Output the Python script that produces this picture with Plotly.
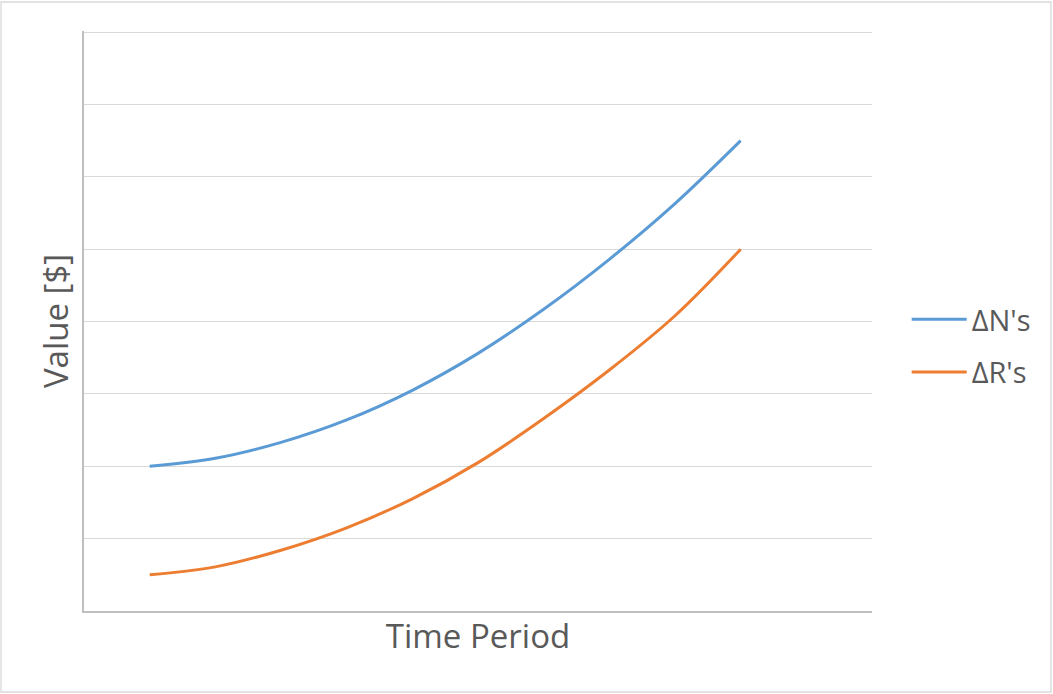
import plotly.graph_objects as go

periods = [1, 2, 3, 4, 5, 6, 7, 8, 9, 10]
delta_n = [2.0, 2.11, 2.33, 2.64, 3.05, 3.56, 4.17, 4.86, 5.63, 6.5]
delta_r = [0.5, 0.61, 0.84, 1.15, 1.55, 2.05, 2.66, 3.33, 4.08, 5.0]
series_names = ["ΔN's", "ΔR's"]
colors = ["#5B9BD5", "#ED7D31"]

W, H = 1053, 694
L, R, T, B = 84, 181, 31, 83

fig = go.Figure()
for i, (name, ys) in enumerate(zip(series_names, [delta_n, delta_r])):
    fig.add_trace(go.Scatter(
        x=periods, y=ys, name=name, mode="lines",
        line=dict(color=colors[i], width=3, shape="spline", smoothing=1.0),
        legendgroup=f"g{i}",
    ))

txt = "#595959"
fig.update_layout(
    width=W, height=H,
    margin=dict(l=L, r=R, t=T, b=B, autoexpand=False),
    paper_bgcolor="white", plot_bgcolor="white",
    font=dict(family="Open Sans", color=txt),
    showlegend=True,
    legend=dict(x=1.044, y=0.457, xanchor="left", yanchor="middle",
                font=dict(size=29, color=txt), tracegroupgap=12, itemwidth=55,
                bgcolor="rgba(0,0,0,0)"),
    xaxis=dict(range=[0, 12], showticklabels=False, showgrid=False, zeroline=False,
               showline=True, linecolor="#bfbfbf", linewidth=1.5, ticks="",
               title=dict(text="Time Period", font=dict(size=33, color=txt), standoff=13)),
    yaxis=dict(range=[0, 8.015], dtick=1, showticklabels=False, showgrid=True,
               gridcolor="#d9d9d9", gridwidth=1.3, zeroline=False,
               showline=True, linecolor="#bfbfbf", linewidth=1.5, ticks="",
               title=dict(text="Value [$]", font=dict(size=33, color=txt), standoff=4)),
    shapes=[dict(type="rect", xref="paper", yref="paper",
                 x0=(1 - L) / (W - L - R), x1=(W - 2 - L) / (W - L - R),
                 y0=-(H - 2 - (H - B)) / (H - T - B), y1=1 + (T - 2) / (H - T - B),
                 line=dict(color="#d9d9d9", width=1.3), fillcolor="rgba(0,0,0,0)",
                 layer="below")],
)

fig.write_html("out.html", config={"displayModeBar": False},
               post_script="document.body.style.margin='0';")
